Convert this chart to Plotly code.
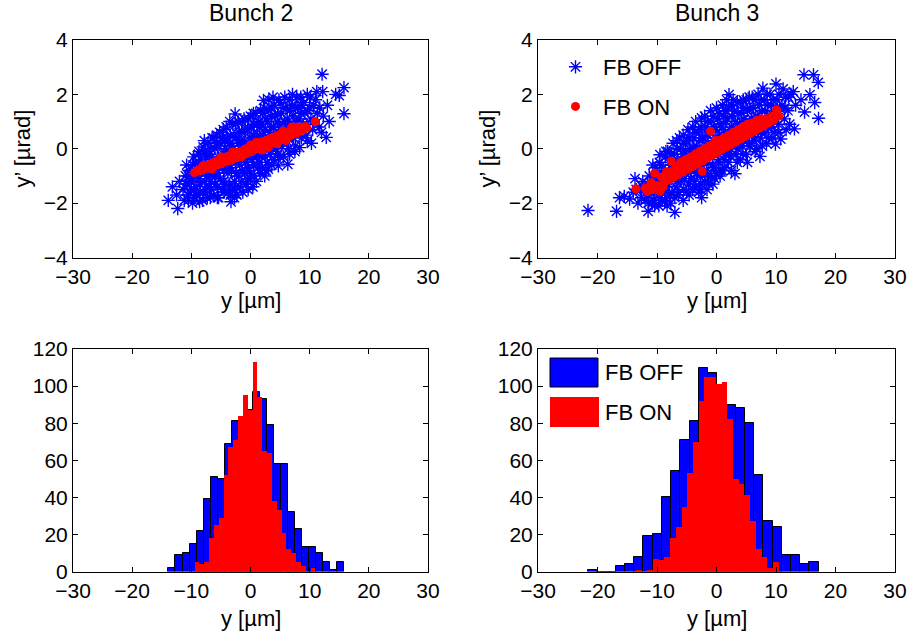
import numpy as np
import plotly.graph_objects as go

# ---------------- data ----------------
# Bunch 2 scatter: (y [um], y' [urad])
B2_OFF_PTS = [
    (-13.9, -1.9), (-13.2, -1.4), (-12.3, -2.2), (-12.5, -1.7), (-12.0, -1.2),
    (-11.4, -1.5), (-11.0, -1.0), (-11.2, -1.9), (-10.9, -1.3),
    (-10.4, -0.8), (-10.2, -1.6), (-10.0, -1.2), (-10.5, -1.9), (-9.8, -0.6),
    (-9.4, -1.8), (-9.2, -1.4), (-9.0, -1.0), (-9.3, -0.5), (-8.8, -0.2), (-9.1, -1.7),
    (-8.0, 0.07), (-8.4, -0.4), (-8.2, -0.8), (-8.5, -1.3), (-7.9, -1.6), (-8.1, -1.9), (-7.7, -0.1),
    (-7.3, -1.8), (-7.0, -1.4), (-7.4, -1.0), (-7.1, -0.6), (-6.9, -0.2), (-7.2, 0.2), (-6.8, -1.2), (-7.5, -0.3),
    (-6.3, 0.4), (-6.0, 0.0), (-6.4, -0.4), (-6.1, -0.9), (-5.9, -1.3), (-6.2, -1.7), (-6.5, -0.7), (-5.8, 0.2), (-6.0, -1.0),
    (-5.2, 0.6), (-5.0, 0.2), (-4.9, -0.3), (-5.3, -0.7), (-5.1, -1.1), (-4.8, -1.5), (-5.4, -1.8), (-4.7, 0.4), (-5.0, -0.5),
    (-4.1, 0.8), (-3.9, 0.4), (-4.2, 0.0), (-4.0, -0.4), (-3.8, -0.9), (-4.3, -1.3), (-3.7, -1.6), (-4.0, -0.7), (-3.6, 0.2),
    (-3.3, -1.95), (-3.0, 0.9), (-2.8, 0.5), (-3.1, 0.1), (-2.9, -0.3), (-3.2, -0.8), (-2.7, -1.2), (-3.0, -1.5), (-2.6, 1.28), (-2.5, -0.5),
    (-2.1, 1.0), (-1.9, 0.6), (-2.0, 0.2), (-2.2, -0.2), (-1.8, -0.6), (-2.0, -1.0), (-1.7, -1.4), (-2.3, -1.7), (-1.6, 0.3),
    (-1.1, 1.1), (-0.9, 0.7), (-1.0, 0.3), (-1.2, -0.1), (-0.8, -0.5), (-1.0, -0.9), (-0.7, -1.31), (-1.3, -1.6), (-0.6, 0.0),
    (0.0, 1.2), (0.2, 0.8), (-0.1, 0.4), (0.1, 0.0), (0.3, -0.4), (-0.2, -0.8), (0.0, -1.1), (0.4, -1.4), (0.5, 0.5),
    (1.0, -1.2), (0.9, 1.3), (1.1, 0.9), (1.2, 0.5), (0.8, 0.1), (1.0, -0.3), (1.3, -0.7), (1.5, -0.2), (1.4, 1.0),
    (2.2, 1.78), (2.0, 1.3), (1.9, 0.9), (2.1, 0.5), (2.3, 0.1), (1.8, -0.3), (2.0, -0.7), (2.4, -1.0), (2.6, 0.3),
    (3.1, 1.8), (3.0, 1.4), (2.9, 1.0), (3.2, 0.6), (3.0, 0.2), (3.3, -0.2), (3.0, -0.75), (2.8, -0.5), (3.5, 1.2),
    (4.0, 1.6), (4.2, 1.2), (3.9, 0.8), (4.1, 0.4), (4.3, 0.0), (4.7, -0.63), (4.0, -0.4), (4.5, 1.0),
    (5.0, 1.7), (5.2, 1.3), (4.9, 0.9), (5.1, 0.5), (5.3, 0.1), (5.0, -0.3), (5.5, 0.7),
    (6.3, -0.57), (6.0, 1.5), (6.2, 1.1), (5.9, 0.7), (6.1, 0.3), (6.4, 0.0), (6.6, 1.8),
    (7.0, 1.6), (7.2, 1.2), (6.9, 0.8), (7.3, 0.4), (7.5, -0.1), (7.1, 2.0),
    (8.3, 0.04), (8.0, 1.5), (8.2, 1.1), (7.9, 0.7), (8.5, 1.9), (8.6, 0.4),
    (9.0, 1.7), (9.2, 1.3), (8.9, 0.9), (9.4, 0.5), (9.6, 2.0),
    (10.3, 0.2), (10.0, 1.5), (10.2, 1.1), (10.5, 0.7), (10.1, 1.9),
    (11.0, 1.8), (11.3, 1.3), (11.6, 0.8), (11.2, 2.1),
    (12.1, 2.74), (12.2, 2.1), (12.3, 1.2), (12.0, 0.6),
    (13.0, 1.6), (12.8, 0.42), (13.3, 1.0), (14.4, 2.0),
    (15.0, 1.96), (15.8, 2.25), (15.8, 1.29),
    (-10.6, -1.7), (-10.7, -1.3), (-10.5, -1.0), (-10.8, -0.6),
    (-9.6, -1.5), (-9.7, -1.1), (-9.5, -0.8), (-9.6, -0.3), (-9.8, -2.0),
    (-8.6, -1.6), (-8.7, -1.1), (-8.5, -0.6), (-8.7, -0.1), (-8.6, -1.95),
    (-7.6, -1.5), (-7.7, -1.2), (-7.5, -0.7), (-7.6, -0.2), (-7.8, 0.3),
    (-6.6, -1.5), (-6.7, -1.0), (-6.6, -0.5), (-6.7, 0.0), (-6.5, 0.4), (-6.8, -1.8),
    (-5.6, -1.4), (-5.7, -0.9), (-5.6, -0.4), (-5.5, 0.1), (-5.7, 0.5), (-5.6, -1.8),
    (-4.6, -1.2), (-4.5, -0.8), (-4.6, -0.2), (-4.4, 0.3), (-4.6, 0.7), (-4.5, -1.6),
    (-3.5, -1.3), (-3.4, -0.7), (-3.6, -0.1), (-3.4, 0.5), (-3.5, 1.0), (-3.4, -1.7),
    (-2.5, -1.4), (-2.4, -0.9), (-2.6, -0.1), (-2.4, 0.4), (-2.5, 0.9), (-2.7, -1.8),
    (-1.5, -1.2), (-1.4, -0.8), (-1.5, -0.4), (-1.4, 0.1), (-1.5, 0.6), (-1.4, 1.0),
    (-0.5, -1.1), (-0.4, -0.7), (-0.5, -0.3), (-0.4, 0.2), (-0.5, 0.7), (-0.3, 1.1), (-0.4, -1.5),
    (0.6, -1.0), (0.5, -0.6), (0.6, -0.1), (0.4, 0.3), (0.6, 0.9), (0.5, 1.3),
    (1.6, -0.9), (1.5, -0.5), (1.7, 0.0), (1.6, 0.4), (1.5, 0.8), (1.7, 1.4),
    (2.6, -0.8), (2.5, -0.3), (2.7, 0.1), (2.5, 0.7), (2.6, 1.1), (2.4, 1.5),
    (3.6, -0.6), (3.5, -0.1), (3.7, 0.3), (3.6, 0.8), (3.5, 1.5), (3.8, 1.9),
    (4.6, -0.2), (4.5, 0.2), (4.7, 0.6), (4.6, 1.3), (4.8, 1.8),
    (5.6, -0.3), (5.5, 0.3), (5.7, 1.0), (5.6, 1.5), (5.8, 1.9),
    (6.6, -0.2), (6.5, 0.4), (6.7, 0.9), (6.6, 1.4),
    (7.6, 0.1), (7.5, 0.6), (7.7, 1.0), (7.6, 1.5), (7.8, 1.9),
    (8.6, 0.8), (8.5, 1.3), (8.7, 1.6),
    (9.6, 0.3), (9.5, 0.9), (9.7, 1.4),
    (10.6, 1.0), (10.7, 1.6), (11.7, 1.5),
]
B2_ON_PTS = [
    (-9.45, -0.88), (-9.1, -0.83), (-8.8, -0.78), (-8.5, -0.80), (-8.2, -0.70), (-7.9, -0.76),
    (-7.6, -0.64), (-7.3, -0.70), (-7.0, -0.58), (-6.7, -0.66), (-6.4, -0.52), (-6.1, -0.62),
    (-5.8, -0.46), (-5.5, -0.58), (-5.2, -0.40), (-4.9, -0.55), (-4.6, -0.36), (-4.3, -0.48),
    (-4.0, -0.30), (-3.7, -0.45), (-3.4, -0.24), (-3.1, -0.40), (-2.8, -0.20), (-2.5, -0.34),
    (-2.2, -0.14), (-1.9, -0.30), (-1.6, -0.10), (-1.3, -0.24), (-1.0, -0.02), (-0.7, -0.18),
    (-0.4, 0.04), (-0.1, -0.12), (0.2, 0.10), (0.5, -0.06), (0.8, 0.16), (1.1, 0.00),
    (1.4, 0.20), (1.7, 0.06), (2.0, 0.26), (2.3, 0.10), (2.6, 0.30), (2.9, 0.16),
    (3.2, 0.36), (3.5, 0.20), (3.8, 0.42), (4.1, 0.26), (4.4, 0.46), (4.7, 0.30),
    (5.0, 0.52), (5.3, 0.36), (5.6, 0.56), (5.9, 0.42), (6.2, 0.62), (6.5, 0.46),
    (6.8, 0.66), (7.1, 0.52), (7.4, 0.72), (7.7, 0.58), (8.0, 0.76), (8.3, 0.64),
    (8.6, 0.78), (8.9, 0.70), (9.2, 0.74), (9.5, 0.76), (10.95, 1.00),
    (-3.0, -0.12), (-1.5, -0.30), (0.0, 0.14), (1.0, 0.24), (3.0, 0.05), (4.5, 0.18),
    (6.0, 0.30), (7.0, 0.80), (-5.0, -0.30), (-6.5, -0.75), (2.0, -0.05), (5.5, 0.65),
    (-8.0, -0.62), (-6.0, -0.50), (-4.5, -0.42), (-3.5, -0.35), (-2.0, -0.22), (-0.5, -0.08),
    (0.5, 0.05), (1.5, 0.10), (2.5, 0.20), (3.5, 0.30), (4.0, 0.35), (5.0, 0.42),
    (6.5, 0.58), (7.5, 0.64), (8.5, 0.70), (9.3, 0.82), (9.0, 0.80), (7.8, 0.80),
]

# Bunch 3 scatter
B3_OFF_PTS = [
    (-21.6, -2.27), (-16.8, -2.3), (-16.3, -1.8), (-15.5, -1.75), (-14.6, -1.85), (-13.7, -1.1),
    (-11.5, -2.3), (-7.0, -2.34), (-2.5, -1.8),
    (-14.0, -1.6), (-13.2, -2.0), (-12.8, -1.5), (-12.4, -1.2), (-12.0, -1.9),
    (-11.3, -1.0), (-11.0, -1.6), (-10.8, -2.0), (-11.6, -1.3),
    (-10.2, -0.7), (-10.0, -1.2), (-9.8, -1.7), (-10.4, -2.1), (-9.5, -0.22),
    (-9.2, -0.6), (-9.0, -1.0), (-8.8, -1.4), (-9.1, -1.9), (-8.6, -0.3),
    (-8.2, -0.1), (-8.0, -0.5), (-7.8, -0.9), (-8.1, -1.3), (-7.9, -1.7), (-8.3, -2.1),
    (-7.3, 0.2), (-7.1, -0.2), (-6.9, -0.6), (-7.2, -1.0), (-6.8, -1.4), (-7.0, -1.8), (-6.6, -0.4),
    (-6.2, 0.4), (-6.0, 0.0), (-5.8, -0.4), (-6.1, -0.8), (-5.9, -1.2), (-6.3, -1.6), (-5.6, -1.9), (-5.5, 0.2),
    (-4.8, 0.7), (-5.0, 0.3), (-5.2, -0.1), (-4.9, -0.5), (-5.1, -0.9), (-4.7, -1.3), (-5.0, -1.6), (-4.5, 0.0),
    (-4.0, 0.8), (-3.8, 0.4), (-4.1, 0.0), (-3.9, -0.4), (-4.2, -0.8), (-3.7, -1.2), (-4.0, -1.5), (-3.5, 1.0),
    (-2.5, 1.13), (-3.0, 0.7), (-2.8, 0.3), (-3.1, -0.1), (-2.9, -0.5), (-3.2, -0.9), (-2.7, -1.3), (-3.0, -1.6), (-2.4, -0.2),
    (-2.0, 1.2), (-1.8, 0.8), (-2.1, 0.4), (-1.9, 0.0), (-2.2, -0.4), (-1.7, -0.8), (-2.0, -1.2), (-1.6, -1.5),
    (-1.0, 1.4), (-0.8, 1.0), (-1.1, 0.6), (-0.9, 0.2), (-1.2, -0.2), (-0.7, -0.6), (-1.0, -1.0), (-0.6, -1.3),
    (0.0, 1.5), (0.2, 1.1), (-0.1, 0.7), (0.1, 0.3), (-0.2, -0.1), (0.3, -0.5), (0.0, -0.9), (0.6, -1.0),
    (1.0, 1.6), (1.2, 1.2), (0.9, 0.8), (1.1, 0.4), (0.8, 0.0), (1.3, -0.4), (1.0, -0.8), (1.5, 0.6),
    (2.1, 1.99), (2.0, 1.5), (1.8, 1.1), (2.2, 0.7), (1.9, 0.3), (2.3, -0.1), (2.0, -0.5), (2.5, -0.8),
    (2.8, 1.8), (3.0, 1.4), (3.2, 1.0), (2.9, 0.6), (3.1, 0.2), (3.3, -0.2), (3.1, -0.92), (3.5, 0.4),
    (4.0, 1.7), (4.2, 1.3), (3.9, 0.9), (4.1, 0.5), (4.3, 0.1), (4.0, -0.4), (4.6, 1.1),
    (5.0, 1.8), (5.2, 1.4), (4.9, 1.0), (5.1, 0.6), (5.3, 0.2), (5.0, -0.2), (5.6, 0.9), (5.2, -0.5),
    (6.0, 1.9), (6.2, 1.5), (5.9, 1.1), (6.1, 0.7), (6.3, 0.3), (6.5, -0.1), (6.6, 1.2),
    (7.3, -0.28), (7.0, 2.0), (7.2, 1.6), (6.9, 1.2), (7.1, 0.8), (7.4, 0.4), (7.6, 1.0),
    (7.8, 2.23), (8.0, 1.8), (8.2, 1.4), (7.9, 1.0), (8.1, 0.6), (8.4, 0.2), (8.6, 1.2),
    (9.0, 2.0), (9.2, 1.6), (8.9, 1.2), (9.3, 0.8), (9.5, 0.4),
    (10.0, 2.38), (10.2, 1.8), (9.9, 0.17), (10.1, 1.3), (10.4, 0.9),
    (11.2, 2.2), (10.8, 0.36), (11.0, 1.6), (11.4, 1.1), (11.6, 1.9),
    (12.0, 1.4), (12.3, 0.9), (12.5, 2.0),
    (12.9, 2.1), (13.1, 0.73), (13.3, 1.6),
    (14.7, 2.72), (14.8, 1.35), (15.7, 1.99), (16.3, 2.72), (16.5, 1.7), (17.1, 2.44), (17.15, 1.12), (14.2, 1.8),
    (-12.6, -1.8), (-12.5, -1.4), (-13.5, -1.5), (-11.7, -1.7), (-11.4, -2.0), (-11.5, -1.5),
    (-10.6, -1.0), (-10.5, -1.5), (-10.6, -1.9), (-10.7, -0.6),
    (-9.6, -0.5), (-9.5, -0.9), (-9.6, -1.3), (-9.5, -1.8), (-9.7, -2.1),
    (-8.6, -0.8), (-8.5, -1.1), (-8.6, -1.6), (-8.7, -1.95), (-8.5, -0.1),
    (-7.6, -0.2), (-7.5, -0.6), (-7.6, -1.1), (-7.5, -1.6), (-7.7, -2.0),
    (-6.6, 0.0), (-6.5, -0.8), (-6.6, -1.2), (-6.4, -1.7), (-6.7, 0.3),
    (-5.6, 0.5), (-5.5, -0.2), (-5.6, -0.6), (-5.4, -1.1), (-5.5, -1.5),
    (-4.6, 0.4), (-4.4, -0.3), (-4.5, -0.7), (-4.4, -1.1), (-4.6, -1.7),
    (-3.6, 0.6), (-3.4, 0.1), (-3.5, -0.4), (-3.4, -0.9), (-3.6, -1.4),
    (-2.6, 0.8), (-2.4, 0.4), (-2.5, -0.6), (-2.4, -1.0), (-2.6, -1.5),
    (-1.5, 1.0), (-1.4, 0.5), (-1.5, 0.1), (-1.4, -0.5), (-1.5, -1.0), (-1.3, -1.3),
    (-0.5, 1.2), (-0.4, 0.8), (-0.5, 0.3), (-0.4, -0.2), (-0.5, -0.7), (-0.3, -1.1),
    (0.5, 1.3), (0.6, 0.9), (0.5, 0.5), (0.6, 0.0), (0.4, -0.4), (0.6, -0.8),
    (1.5, 1.4), (1.6, 1.0), (1.5, 0.2), (1.6, -0.2), (1.4, -0.7), (1.7, 1.8),
    (2.5, 1.6), (2.6, 1.2), (2.5, 0.8), (2.6, 0.3), (2.4, -0.3),
    (3.5, 1.7), (3.6, 1.3), (3.5, 0.9), (3.6, 0.0), (3.5, -0.5),
    (4.5, 1.8), (4.6, 1.5), (4.5, 0.7), (4.6, 0.3), (4.4, -0.2),
    (5.5, 1.9), (5.6, 1.5), (5.5, 0.5), (5.6, 0.1),
    (6.5, 1.8), (6.6, 0.8), (6.5, 0.4), (6.7, 0.0),
    (7.5, 1.8), (7.6, 1.4), (7.5, 0.6), (7.7, 0.1),
    (8.5, 2.0), (8.6, 1.6), (8.5, 0.8), (8.7, 0.4),
    (9.5, 1.8), (9.6, 1.4), (9.5, 1.0), (9.7, 0.6),
    (10.5, 2.0), (10.6, 1.5), (10.5, 0.6),
    (11.5, 1.5), (11.7, 0.7), (12.1, 1.9),
]
B3_ON_PTS = [
    (-13.55, -1.47), (-11.6, -1.57), (-11.0, -1.25), (-10.4, -0.9), (-10.0, -1.35), (-9.5, -1.57),
    (-9.2, -1.05), (-8.8, -1.25), (-8.4, -0.85), (-8.0, -1.15), (-7.6, -0.46), (-7.6, -0.85),
    (-7.2, -1.05), (-6.8, -0.65), (-6.4, -0.95), (-6.0, -0.50), (-5.6, -0.85), (-5.2, -0.40),
    (-4.8, -0.75), (-4.4, -0.30), (-4.0, -0.65), (-3.6, -0.20), (-3.2, -0.55), (-2.8, -0.10),
    (-2.4, -0.83), (-2.4, -0.45), (-2.0, 0.00), (-1.6, -0.35), (-1.2, 0.10), (-1.0, 0.64),
    (-0.8, -0.25), (-0.4, 0.20), (0.0, -0.15), (0.4, 0.30), (0.8, -0.05), (1.2, 0.40),
    (1.6, 0.05), (2.0, 0.50), (2.4, 0.15), (2.8, 0.60), (3.2, 0.25), (3.6, 0.70),
    (4.0, 0.35), (4.4, 0.80), (4.8, 0.45), (5.2, 0.90), (5.6, 0.55), (6.0, 0.95),
    (6.4, 0.65), (6.8, 1.05), (7.2, 0.75), (7.6, 1.10), (8.0, 0.85), (8.4, 1.10),
    (8.8, 0.95), (9.2, 1.15), (9.6, 1.05), (10.1, 1.43), (10.45, 1.20),
    (-6.0, -0.75), (-3.0, -0.35), (-1.0, -0.10), (1.0, 0.15), (3.0, 0.40), (5.0, 0.65),
    (7.0, 0.90), (-4.5, -0.55), (2.0, 0.25), (4.0, 0.55), (6.0, 0.75), (-2.0, -0.25), (0.0, 0.10),
    (-9.0, -1.40), (-8.2, -1.00), (-7.0, -0.80), (-6.2, -0.60), (-5.4, -0.65), (-4.6, -0.45),
    (-3.8, -0.45), (-3.4, -0.35), (-2.6, -0.30), (-1.8, -0.15), (-1.4, -0.30), (-0.6, 0.00),
    (-0.2, 0.30), (0.2, -0.05), (0.6, 0.15), (1.4, 0.20), (1.8, 0.35), (2.2, 0.40),
    (2.6, 0.30), (3.4, 0.50), (3.8, 0.45), (4.2, 0.65), (4.6, 0.60), (5.4, 0.75),
    (5.8, 0.70), (6.6, 0.85), (7.4, 0.95), (7.8, 0.90), (8.2, 1.00), (9.0, 1.05),
    (9.4, 1.20), (-10.8, -1.50), (-12.0, -1.45),
]

# Histograms (25 bins each, between data min and max)
B2_OFF_COUNTS = [2, 9, 10, 15, 22, 39, 51, 50, 69, 81, 82, 87, 97, 93, 79, 58, 58, 32, 23, 13, 13, 10, 5, 1, 5]
B2_OFF_RANGE = [-13.87, 15.84]
B2_ON_COUNTS = [5, 4, 5, 18, 25, 29, 52, 67, 71, 84, 95, 87, 113, 94, 65, 64, 38, 33, 21, 12, 10, 5, 3, 0, 2]
B2_ON_RANGE = [-9.44, 10.96]
B3_OFF_COUNTS = [1, 0, 0, 3, 4, 8, 19, 20, 40, 54, 71, 81, 110, 107, 97, 90, 88, 80, 52, 27, 24, 9, 9, 4, 5]
B3_OFF_RANGE = [-21.58, 17.16]
B3_ON_COUNTS = [1, 0, 1, 7, 6, 8, 18, 24, 35, 53, 70, 92, 105, 105, 101, 102, 82, 50, 47, 41, 27, 12, 8, 2, 5]
B3_ON_RANGE = [-13.56, 10.47]

TITLES = ["Bunch 2", "Bunch 3"]
SERIES_NAMES = ["FB OFF", "FB ON"]
X_LABEL = "y [µm]"
Y_LABEL = "y’ [µrad]"

# ---------------- styling ----------------
W, H = 909, 637
FONT = "Liberation Sans, Arial, Helvetica, sans-serif"
BLUE = "#0000ff"
RED = "#ff0000"


def px_x(p):
    return p / W


def px_y(p):
    return 1 - p / H


def hist_bars(counts, rng):
    edges = np.linspace(rng[0], rng[1], len(counts) + 1)
    centers = (edges[:-1] + edges[1:]) / 2
    return centers, (rng[1] - rng[0]) / len(counts)


fig = go.Figure()


def add_scatter(pts, axis_suffix, color, symbol, size, name, showlegend):
    xs = [p[0] for p in pts]
    ys = [p[1] for p in pts]
    if symbol == "asterisk-open":
        marker = dict(symbol=symbol, size=size, color=color,
                      line=dict(color=color, width=1.4))
    else:
        marker = dict(symbol=symbol, size=size, color=color, line=dict(width=0))
    fig.add_trace(go.Scatter(
        x=xs, y=ys, mode="markers", marker=marker, name=name,
        xaxis="x" + axis_suffix, yaxis="y" + axis_suffix,
        showlegend=showlegend, legendgroup=name, hoverinfo="skip"))


add_scatter(B2_OFF_PTS, "", BLUE, "asterisk-open", 11, SERIES_NAMES[0], False)
add_scatter(B2_ON_PTS, "", RED, "circle", 9, SERIES_NAMES[1], False)
add_scatter(B3_OFF_PTS, "2", BLUE, "asterisk-open", 11, SERIES_NAMES[0], True)
add_scatter(B3_ON_PTS, "2", RED, "circle", 9, SERIES_NAMES[1], True)


def add_hist(counts, rng, axis_suffix, color, outline):
    c, w = hist_bars(counts, rng)
    fig.add_trace(go.Bar(
        x=c, y=counts, width=w, marker=dict(
            color=color,
            line=dict(color="black" if outline else color, width=1 if outline else 0)),
        xaxis="x" + axis_suffix, yaxis="y" + axis_suffix, showlegend=False,
        hoverinfo="skip"))


add_hist(B2_OFF_COUNTS, B2_OFF_RANGE, "3", BLUE, True)
add_hist(B2_ON_COUNTS, B2_ON_RANGE, "3", RED, False)
add_hist(B3_OFF_COUNTS, B3_OFF_RANGE, "4", BLUE, True)
add_hist(B3_ON_COUNTS, B3_ON_RANGE, "4", RED, False)

LEFT = [px_x(73), px_x(428)]
RIGHT = [px_x(538), px_x(895)]
TOP = [px_y(257.5), px_y(40)]
BOTTOM = [px_y(571.5), px_y(349)]

axis_common = dict(
    showline=True, linecolor="black", linewidth=1, mirror="ticks",
    ticks="inside", ticklen=5, tickcolor="black", tickwidth=1,
    showgrid=False, zeroline=False,
    tickfont=dict(family=FONT, size=21, color="black"),
)
xax = dict(axis_common, range=[-30, 30], tickvals=[-30, -20, -10, 0, 10, 20, 30])
yax_top = dict(axis_common, range=[-4, 4], tickvals=[-4, -2, 0, 2, 4])
yax_bot = dict(axis_common, range=[0, 120], tickvals=[0, 20, 40, 60, 80, 100, 120])

fig.update_layout(
    width=W, height=H,
    margin=dict(l=0, r=0, t=0, b=0, pad=0, autoexpand=False),
    paper_bgcolor="white", plot_bgcolor="white",
    font=dict(family=FONT, color="black"),
    barmode="overlay", bargap=0,
    xaxis=dict(xax, domain=LEFT, anchor="y"),
    yaxis=dict(yax_top, domain=TOP, anchor="x"),
    xaxis2=dict(xax, domain=RIGHT, anchor="y2"),
    yaxis2=dict(yax_top, domain=TOP, anchor="x2"),
    xaxis3=dict(xax, domain=LEFT, anchor="y3"),
    yaxis3=dict(yax_bot, domain=BOTTOM, anchor="x3"),
    xaxis4=dict(xax, domain=RIGHT, anchor="y4"),
    yaxis4=dict(yax_bot, domain=BOTTOM, anchor="x4"),
    showlegend=True,
    legend=dict(
        x=px_x(548), y=px_y(46), xanchor="left", yanchor="top",
        bgcolor="rgba(0,0,0,0)", borderwidth=0,
        font=dict(family=FONT, size=22, color="black"),
        tracegroupgap=8, itemsizing="trace", itemwidth=45,
    ),
)

# titles and axis labels
annos = []
for i, t in enumerate(TITLES):
    cx = 251 if i == 0 else 717
    annos.append(dict(text=t, x=px_x(cx), y=px_y(13), xref="paper", yref="paper",
                      xanchor="center", yanchor="middle",
                      showarrow=False, font=dict(family=FONT, size=23)))
for cx in (251, 717):
    for cy in (300, 618):
        annos.append(dict(text=X_LABEL, x=px_x(cx), y=px_y(cy), xref="paper", yref="paper",
                          xanchor="center", yanchor="middle",
                          showarrow=False, font=dict(family=FONT, size=22)))
for cx in (22, 487):
    annos.append(dict(text=Y_LABEL, x=px_x(cx), y=px_y(148.5), xref="paper", yref="paper",
                      xanchor="center", yanchor="middle",
                      showarrow=False, textangle=-90, font=dict(family=FONT, size=22)))

# manual legend for the bottom-right histogram (large patches as in MATLAB)
shapes = [
    dict(type="rect", xref="paper", yref="paper",
         x0=px_x(550), x1=px_x(598), y0=px_y(387), y1=px_y(358),
         fillcolor=BLUE, line=dict(color="black", width=1)),
    dict(type="rect", xref="paper", yref="paper",
         x0=px_x(550), x1=px_x(599), y0=px_y(427), y1=px_y(397),
         fillcolor=RED, line=dict(width=0)),
]
for name, cy in zip(SERIES_NAMES, (372, 412)):
    annos.append(dict(text=name, x=px_x(603), y=px_y(cy), xref="paper", yref="paper",
                      xanchor="left", yanchor="middle",
                      showarrow=False, font=dict(family=FONT, size=22)))

fig.update_layout(annotations=annos, shapes=shapes)
# remove the browser's default 8px page margin so the figure fills the window
fig.write_html("out.html", config={"displayModeBar": False},
               post_script="document.body.style.margin='0';")
